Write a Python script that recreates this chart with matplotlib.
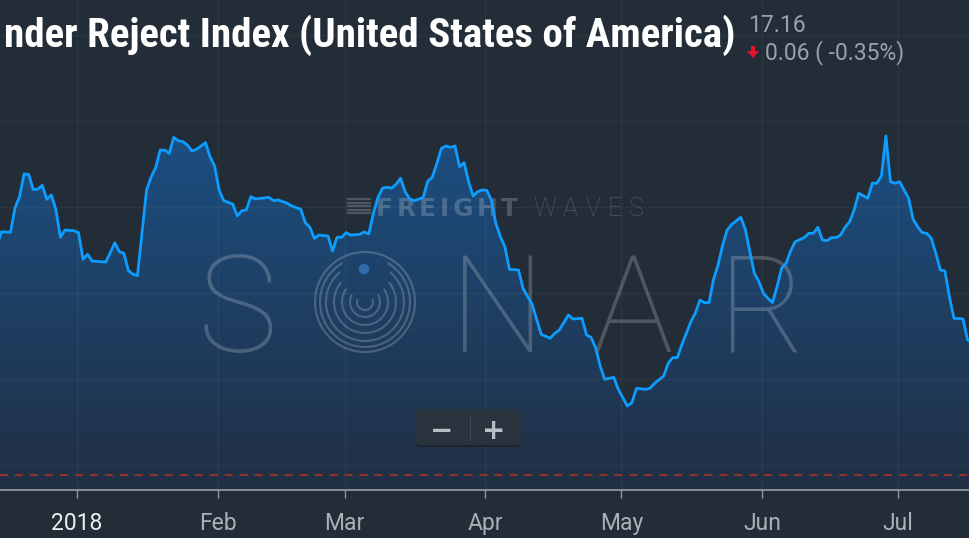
import numpy as np
import matplotlib
matplotlib.use('Agg')
import matplotlib.pyplot as plt
import matplotlib.dates as mdates
import matplotlib.transforms as mtransforms
from matplotlib import font_manager
from matplotlib.patches import Polygon, Arc, Circle, FancyBboxPatch
from matplotlib.colors import LinearSegmentedColormap


def pick_font(names):
    for n in names:
        try:
            font_manager.findfont(font_manager.FontProperties(family=n),
                                  fallback_to_default=False)
            return n
        except ValueError:
            pass
    return 'DejaVu Sans'


COND = pick_font(['Roboto Condensed', 'Liberation Sans Narrow', 'Roboto'])
ROBOTO = pick_font(['Roboto', 'DejaVu Sans'])

# Outbound tender reject index, days counted from 2018-01-01
start = np.datetime64('2018-01-01')
days = [-18, -17, -15, -14, -13, -12, -11, -10, -9, -8,
        -7, -6, -5, -4, -3, -1, 0, 1, 2, 3,
        6, 7, 8, 9, 10, 11, 12, 13, 15, 16,
        17, 18, 19, 20, 21, 22, 23, 24, 25, 26,
        28, 29, 30, 31, 32, 34, 35, 36, 37, 38,
        39, 42, 43, 44, 46, 47, 49, 50, 51, 52,
        53, 55, 56, 57, 58, 59, 60, 62, 63, 64,
        65, 66, 67, 68, 69, 70, 71, 72, 73, 74,
        75, 76, 77, 78, 79, 80, 81, 82, 83, 84,
        85, 86, 87, 88, 89, 90, 91, 92, 93, 94,
        95, 97, 98, 100, 102, 104, 105, 106, 108, 109,
        111, 112, 113, 114, 115, 116, 118, 119, 121, 122,
        123, 125, 126, 127, 129, 130, 131, 132, 133, 135,
        136, 137, 138, 139, 140, 141, 142, 143, 144, 146,
        147, 148, 149, 150, 151, 152, 153, 154, 155, 156,
        157, 158, 160, 161, 162, 163, 164, 165, 166, 167,
        168, 169, 170, 171, 172, 174, 175, 176, 177, 178,
        179, 180, 181, 182, 183, 184, 185, 186, 187, 188,
        189, 190, 191, 192, 193, 195, 196, 197]
otri = [22.70, 23.56, 23.53, 24.94, 25.60, 26.92, 26.90, 26.03, 26.03, 26.26,
        25.45, 25.70, 24.87, 23.24, 23.66, 23.62, 23.51, 21.96, 22.25, 21.86,
        21.80, 22.34, 22.92, 22.40, 22.31, 21.30, 21.09, 21.01, 25.99, 26.73,
        27.28, 28.31, 28.31, 28.12, 29.05, 28.85, 28.80, 28.60, 28.26, 28.35,
        28.74, 27.92, 27.38, 25.99, 25.37, 25.17, 24.48, 24.78, 24.83, 25.60,
        25.47, 25.56, 25.37, 25.41, 25.22, 25.06, 24.87, 24.09, 23.82, 23.18,
        23.37, 23.31, 22.44, 23.24, 23.24, 23.51, 23.37, 23.41, 23.55, 23.43,
        24.63, 25.54, 26.09, 26.15, 26.09, 26.32, 26.67, 25.89, 25.47, 25.37,
        25.45, 25.56, 26.51, 26.73, 27.54, 28.41, 28.55, 28.47, 28.55, 27.34,
        27.58, 26.47, 25.64, 25.89, 25.99, 25.97, 25.41, 24.05, 23.28, 22.69,
        21.37, 21.34, 20.27, 19.34, 17.60, 17.37, 17.66, 17.85, 18.72, 18.49,
        18.53, 17.56, 17.42, 16.82, 15.76, 14.98, 15.10, 14.40, 13.43, 13.62,
        14.46, 14.40, 14.46, 14.75, 15.17, 15.91, 16.24, 16.24, 16.98, 18.33,
        18.85, 19.59, 19.44, 19.44, 20.80, 21.63, 22.79, 23.66, 23.99, 24.40,
        23.70, 22.40, 21.15, 20.66, 19.98, 19.69, 19.44, 20.37, 21.44, 21.73,
        22.46, 22.98, 23.22, 23.47, 23.47, 23.82, 23.08, 23.04, 23.22, 23.22,
        23.37, 23.82, 24.15, 24.83, 25.80, 25.51, 26.38, 26.38, 26.80, 29.13,
        26.47, 26.38, 26.47, 25.99, 25.51, 24.28, 23.85, 23.51, 23.47, 23.18,
        22.31, 21.34, 21.28, 19.78, 18.53, 18.49, 17.27, 17.16]
threshold = 9.42

tick_dates = ['2018-01-01', '2018-02-01', '2018-03-01', '2018-04-01',
              '2018-05-01', '2018-06-01', '2018-07-01']
tick_labels = ['2018', 'Feb', 'Mar', 'Apr', 'May', 'Jun', 'Jul']

# the header is cut at the left edge in the source, only this part shows
title = 'nder Reject Index (United States of America)'
last_value = '17.16'
change = '0.06 ( -0.35%)'

BG = '#232d38'
LINE = '#0d9dff'
W, H = 970, 538

fig = plt.figure(figsize=(W / 100, H / 100), dpi=100, facecolor=BG)
# pixel coordinates, origin top-left
px = mtransforms.Affine2D().scale(1 / W, -1 / H).translate(0, 1) + fig.transFigure

ax = fig.add_axes([0, 1 - 490 / H, 1, 490 / H])
ax.set_facecolor(BG)

t0 = mdates.date2num(start)
x = mdates.date2num(start + np.array(days).astype('timedelta64[D]')) + 8 / 24
y = np.array(otri)
xmin, xmax = t0 - 77 / 4.536, t0 + 893 / 4.536
ymin, ymax = 8.547, 37.035

# gradient area under the line
cmap = LinearSegmentedColormap.from_list('area', ['#212f43', '#1b5084'])
im = ax.imshow(np.linspace(0, 1, 256).reshape(-1, 1), cmap=cmap, origin='lower',
               aspect='auto', extent=[xmin, xmax, ymin, 30], zorder=1)
area = Polygon(np.column_stack([np.r_[x[0], x, x[-1]], np.r_[ymin, y, ymin]]),
               closed=True, facecolor='none', edgecolor='none')
ax.add_patch(area)
im.set_clip_path(area)

ax.plot(x, y, color=LINE, lw=2.0, zorder=5, solid_joinstyle='round')
ax.axhline(threshold, color='#a3302a', lw=1.3, dashes=(4.4, 3.9), zorder=3)

ax.set_xlim(xmin, xmax)
ax.set_ylim(ymin, ymax)
ax.set_xticks(mdates.date2num(np.array(tick_dates, dtype='datetime64[D]')))
ax.set_xticklabels(tick_labels, family=[ROBOTO, 'DejaVu Sans'])
ax.tick_params(axis='x', length=6, width=1, color='#8d949b', pad=10,
               labelsize=16.5, labelcolor='#aab0b6')
ax.get_xticklabels()[0].set_color('#eceef0')
ax.set_yticks([10, 15, 20, 25, 30, 35])
ax.tick_params(axis='y', length=0, labelleft=False)
ax.grid(True, color='white', alpha=0.045, lw=1)
ax.set_axisbelow('line')
for s in ['top', 'left', 'right']:
    ax.spines[s].set_visible(False)
ax.spines['bottom'].set_color('#9aa0a6')
ax.spines['bottom'].set_linewidth(1.2)

renderer = fig.canvas.get_renderer()


def tracked(target, s, x0, x1, ybase, **kw):
    ts = [target.text(0, ybase, c, transform=px, va='baseline', **kw) for c in s]
    ws = [t.get_window_extent(renderer).width for t in ts]
    gap = (x1 - x0 - sum(ws)) / max(len(s) - 1, 1)
    xc = x0
    for t, w in zip(ts, ws):
        t.set_x(xc)
        xc += w + gap


# FREIGHTWAVES watermark
wm = dict(color='white', alpha=0.2, zorder=2, clip_on=False)
for yy in [199, 202.5, 206, 209.5, 213]:
    ax.plot([348, 370], [yy, yy], transform=px, lw=1.6, **wm)
tracked(ax, 'FREIGHT', 376, 518, 216, fontsize=18, fontweight='bold',
        family='DejaVu Sans', **wm)
tracked(ax, 'WAVES', 533, 644, 216, fontsize=18, fontweight=100,
        family=ROBOTO, **wm)

# SONAR watermark
sonar = dict(color='white', alpha=0.2, zorder=2, clip_on=False, fontsize=97,
             fontweight=100, family=ROBOTO, ha='center', va='baseline',
             transform=px)
for ch, cx in [('S', 238), ('N', 498), ('A', 633), ('R', 761)]:
    ax.text(cx, 352, ch, **sonar)
ax.add_patch(Arc((365, 302), 100, 100, transform=px, color='white', alpha=0.2,
                 lw=1.5, zorder=2))
for r, gap in [(45, 30), (39, 40), (31, 50), (23, 55), (15, 60), (8, 70)]:
    ax.add_patch(Arc((365, 302), 2 * r, 2 * r, theta1=270 + gap, theta2=270 - gap,
                     transform=px, color='white', alpha=0.2, lw=1.5, zorder=2))
ax.add_patch(Circle((364, 269), 4.5, transform=px, color='#2f6cab', zorder=2))

# zoom buttons
fig.add_artist(FancyBboxPatch((416, 411), 105, 36, boxstyle='round,pad=0,rounding_size=4',
                              transform=px, facecolor='#1b222b', edgecolor='none'))
fig.add_artist(FancyBboxPatch((416, 409), 105, 36, boxstyle='round,pad=0,rounding_size=4',
                              transform=px, facecolor='#29333e', edgecolor='none'))
fig.add_artist(plt.Line2D([470, 470], [415, 440], transform=px, color='#3d4752', lw=1))
fig.text(442, 428, '\u2212', transform=px, ha='center', va='center_baseline',
         fontsize=20, fontweight='bold', color='#b9bec4', family='DejaVu Sans')
fig.text(494, 428, '+', transform=px, ha='center', va='center_baseline',
         fontsize=20, fontweight='bold', color='#b9bec4', family='DejaVu Sans')

# header, sized so it runs from the left edge to x=736
head = fig.text(736, 47, title, transform=px, ha='right', va='baseline', fontsize=27.3,
                fontweight='bold', color='white', family=[COND, 'DejaVu Sans'])
hw = head.get_window_extent(renderer).width
head.set_fontsize(27.3 * 734 / hw)
fig.text(748, 32.5, last_value, transform=px, ha='left', va='baseline',
         fontsize=16.5, color='#9ba1a8', family=[ROBOTO, 'DejaVu Sans'])
fig.text(765, 59, change, transform=px, ha='left', va='baseline',
         fontsize=16.5, color='#9ba1a8', family=[ROBOTO, 'DejaVu Sans'])
fig.add_artist(Polygon([(751, 46), (755, 46), (755, 51), (759, 51), (753, 58),
                        (747, 51), (751, 51)], closed=True, transform=px,
                       facecolor='#e8102a', edgecolor='none'))

fig.savefig('out.png', dpi=100, facecolor=BG)
